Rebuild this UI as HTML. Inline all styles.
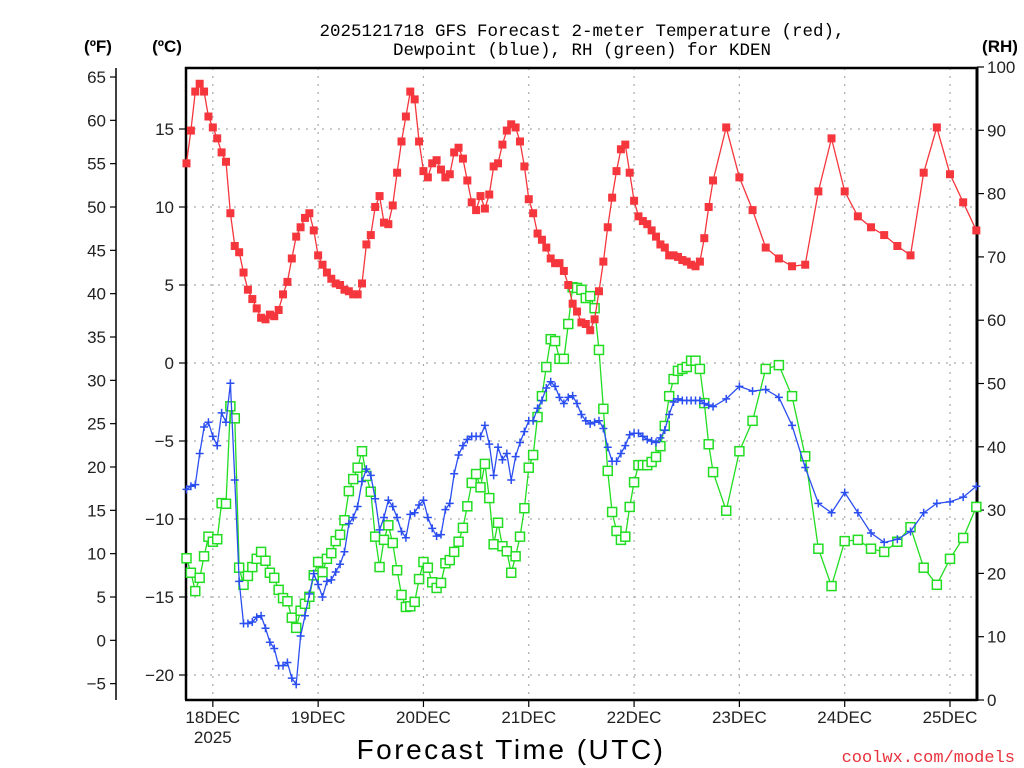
<!DOCTYPE html>
<html><head><meta charset="utf-8"><style>
html,body{margin:0;padding:0;background:#fff;}
svg{display:block;}
text{font-family:"Liberation Sans",sans-serif;}
</style></head><body>
<svg id="chart" width="1024" height="768" viewBox="0 0 1024 768" xmlns="http://www.w3.org/2000/svg">
<text x="582" y="36" text-anchor="middle" font-size="17.5" fill="#000" style="font-family:'Liberation Mono',monospace">2025121718 GFS Forecast 2-meter Temperature (red),</text>
<text x="582" y="55" text-anchor="middle" font-size="17.5" fill="#000" style="font-family:'Liberation Mono',monospace">Dewpoint (blue), RH (green) for KDEN</text>
<text x="98" y="52" text-anchor="middle" font-size="17" font-weight="bold">(ºF)</text>
<text x="167" y="52" text-anchor="middle" font-size="17" font-weight="bold">(ºC)</text>
<text x="1000" y="52" text-anchor="middle" font-size="17" font-weight="bold">(RH)</text>
<text x="511" y="759" text-anchor="middle" font-size="28" letter-spacing="2.5">Forecast Time (UTC)</text>
<text x="1015" y="762" text-anchor="end" font-size="17" fill="#e8323c" style="font-family:'Liberation Mono',monospace">coolwx.com/models</text>
<g id="grid"></g><g id="axes"></g><g id="series"></g>
</svg>
<script>
const tempC = [12.8,14.9,17.4,17.9,17.4,15.8,15.1,14.4,13.5,12.9,9.6,7.5,7.1,5.8,4.7,4.1,3.5,2.9,2.8,3.1,3.0,3.4,4.4,5.2,6.7,8.1,8.7,9.3,9.6,8.5,6.9,6.3,5.8,5.4,5.1,5.0,4.7,4.6,4.4,4.4,5.1,7.6,8.2,10.0,10.7,9.0,8.9,10.1,12.2,14.2,15.8,17.4,16.9,14.2,
12.3,11.9,12.8,13.0,12.4,11.9,12.1,13.5,13.8,13.1,11.7,10.3,9.8,10.7,9.9,10.8,12.6,12.8,14.0,14.9,15.3,15.1,14.2,12.6,10.5,9.6,8.3,7.9,7.4,6.7,6.4,6.4,5.9,5.0,3.8,3.3,2.6,2.5,2.1,2.8,4.6,6.5,8.7,10.6,12.3,13.7,14.0,12.2,10.4,9.4,9.1,8.9,8.5,8.1,7.6,7.4,6.9,6.9,6.8,6.6,6.5,6.3,6.2,6.5,8.0,10.0,11.7,
15.1,11.9,9.8,7.4,6.7,6.2,6.3,11.0,14.4,11.0,9.4,8.7,8.2,7.5,6.9,12.2,15.1,12.1,10.3,8.5];
const dewC = [-8.1,-7.9,-7.8,-5.8,-4.1,-3.8,-4.7,-5.3,-3.2,-3.8,-1.3,-7.5,-14.0,-16.7,-16.7,-16.6,-16.3,-16.2,-17.0,-17.9,-18.3,-19.4,-19.4,-19.2,-20.2,-20.6,-17.5,-16.2,-14.8,-13.5,-14.2,-15.0,-14.0,-13.9,-13.4,-12.9,-12.1,-10.3,-9.9,-9.2,-7.6,-6.8,-7.2,-8.7,-10.7,-9.9,-8.8,-9.2,-9.9,-10.8,-11.2,-9.7,-9.6,-9.1,
-8.8,-9.9,-10.6,-11.1,-11.0,-9.4,-9.0,-7.1,-5.9,-5.3,-4.9,-4.7,-4.7,-4.7,-4.0,-5.2,-7.2,-5.4,-6.2,-5.8,-7.5,-6.0,-5.1,-4.4,-3.7,-3.7,-2.9,-2.4,-1.6,-1.2,-1.5,-2.2,-2.6,-2.2,-2.1,-2.6,-3.3,-3.7,-3.9,-3.8,-3.7,-4.2,-5.4,-6.3,-6.3,-5.8,-5.3,-4.6,-4.5,-4.5,-4.7,-4.9,-5.0,-5.1,-4.8,-4.3,-3.3,-2.5,-2.3,-2.4,-2.4,-2.4,-2.4,-2.4,-2.6,-2.7,-2.8,
-2.3,-1.5,-1.8,-1.7,-2.2,-4.0,-6.7,-9.0,-9.6,-8.3,-9.6,-10.9,-11.5,-11.3,-10.8,-9.6,-9.0,-8.9,-8.6,-7.9];
const rhPct = [22.4,20.1,17.2,19.3,22.7,25.8,25.0,25.4,31.1,31.0,46.4,44.5,20.9,18.2,19.6,21.0,22.3,23.4,22.0,20.1,19.3,17.4,16.1,15.6,13.0,11.4,14.1,15.2,16.3,19.7,21.8,20.2,22.3,23.2,25.1,26.1,28.4,33.0,34.9,36.7,39.3,35.4,32.9,25.8,21.0,25.3,27.6,24.8,20.5,16.6,14.7,14.8,15.5,19.1,
21.8,20.9,18.6,17.7,18.5,21.6,22.1,23.4,25.0,27.2,30.6,34.3,35.7,33.6,37.3,31.9,24.6,28.0,24.3,23.5,20.1,22.7,25.8,30.3,36.7,38.7,44.7,48.0,52.6,57.0,56.7,53.9,53.9,59.4,65.2,65.1,64.8,63.5,63.8,61.9,55.3,46.0,36.2,29.7,26.7,25.3,25.8,30.5,34.4,37.1,37.1,37.1,37.6,38.4,40.1,43.3,48.0,50.7,52.0,52.3,52.6,53.6,53.6,52.3,46.9,40.4,36.0,
29.9,39.3,44.1,52.3,52.9,48.0,38.5,23.9,18.0,25.1,25.3,23.9,23.4,25.0,27.3,20.9,18.2,22.3,25.6,30.5];
const dayLabels = ["18DEC","19DEC","20DEC","21DEC","22DEC","23DEC","24DEC","25DEC"];
const fTicks = [65,60,55,50,45,40,35,30,25,20,15,10,5,0,-5];
const cTicks = [15,10,5,0,-5,-10,-15,-20];
const rhTicks = [100,90,80,70,60,50,40,30,20,10,0];

const NS="http://www.w3.org/2000/svg";
const X0=186.5, PX_PER_H=4.388, Y0C=363, PX_PER_C=15.6, RH0=700, PX_PER_RH=6.33;
function hourOf(i){return i<=120? i : 120+3*(i-120);}
function xH(h){return X0+h*PX_PER_H;}
function yC(c){return Y0C-c*PX_PER_C;}
function yF(f){return yC((f-32)*5/9);}
function yRH(r){return RH0-r*PX_PER_RH;}
function mk(tag,attrs,parent){const e=document.createElementNS(NS,tag);for(const k in attrs)e.setAttribute(k,attrs[k]);parent.appendChild(e);return e;}
const grid=document.getElementById('grid'),axes=document.getElementById('axes'),ser=document.getElementById('series');
const L=186,R=977,T=68,B=700;
cTicks.forEach(c=>{const y=yC(c);
 const g=mk('line',{x1:L,x2:R,y1:y,y2:y,stroke:'#aaa','stroke-width':1.2,'stroke-dasharray':'2 6'},grid);
 
 
 const t=mk('line',{x1:L-7,x2:L,y1:y,y2:y,stroke:'#000','stroke-width':1.2},axes);
 
 
 const tx=mk('text',{x:L-12,y:y+6,'text-anchor':'end','font-size':17,fill:'#222'},axes);
 tx.textContent=(c<0?'\u2212':'')+Math.abs(c);
 
 
});
dayLabels.forEach((d,i)=>{const x=xH(6+24*i);
 const g=mk('line',{x1:x,x2:x,y1:T,y2:B,stroke:'#aaa','stroke-width':1.2,'stroke-dasharray':'2 6'},grid);
 
 
 const t=mk('line',{x1:x,x2:x,y1:B,y2:B+7,stroke:'#000','stroke-width':1.2},axes);
 
 
 const tx=mk('text',{x:x,y:723,'text-anchor':'middle','font-size':17,fill:'#222'},axes);
 tx.textContent=d;
 
 
});
const yr=mk('text',{x:xH(6),y:743,'text-anchor':'middle','font-size':17,fill:'#222'},axes);
yr.textContent='2025';


const fa=mk('line',{x1:116,x2:116,y1:T,y2:B,stroke:'#000','stroke-width':1.5},axes);


fTicks.forEach(f=>{const y=yF(f);
 const t=mk('line',{x1:110,x2:116,y1:y,y2:y,stroke:'#000','stroke-width':1.2},axes);
 
 
 const tx=mk('text',{x:106,y:y+6,'text-anchor':'end','font-size':17,fill:'#222'},axes);
 tx.textContent=(f<0?'\u2212':'')+Math.abs(f);
 
 
});
rhTicks.forEach(r=>{const y=yRH(r);
 const t=mk('line',{x1:R,x2:R+7,y1:y,y2:y,stroke:'#000','stroke-width':1.2},axes);
 
 
 const tx=mk('text',{x:987,y:y+6,'text-anchor':'start','font-size':17,fill:'#222'},axes);
 tx.textContent=r;
 
 
});
const fr=mk('path',{d:`M${L},${B} L${L},${T} L${R},${T}`,fill:'none',stroke:'#000','stroke-width':2.5},axes);


const fb=mk('line',{x1:L-1,x2:R,y1:B,y2:B,stroke:'#000','stroke-width':2.5},axes);


const fra=mk('line',{x1:R,x2:R,y1:T-1,y2:B+1,stroke:'#000','stroke-width':3},axes);



function drawSeries(vals,yfn,color,name,marker){
 const g=mk('g',{},ser);
 
 
 const pts=vals.map((v,i)=>[xH(hourOf(i)),yfn(v)]);
 const pl=mk('polyline',{points:pts.map(p=>p[0].toFixed(1)+','+p[1].toFixed(1)).join(' '),fill:'none',stroke:color,'stroke-width':1.3},g);
 
 
 pts.forEach(p=>{let m;
  if(marker==='fill'){m=mk('rect',{x:p[0]-4,y:p[1]-4,width:8,height:8,fill:color},g);}
  else if(marker==='open'){m=mk('rect',{x:p[0]-4.5,y:p[1]-4.5,width:9,height:9,fill:'#fff',stroke:color,'stroke-width':1.5},g);}
  else {m=mk('path',{d:`M${p[0]-4},${p[1]} h8 M${p[0]},${p[1]-4} v8`,stroke:color,'stroke-width':1.5,fill:'none'},g);}
  
  
 });
}
drawSeries(rhPct,yRH,'#22dd22','rh','open');
drawSeries(dewC,yC,'#2b4ef0','dewpoint','plus');
drawSeries(tempC,yC,'#f5363c','temperature','fill');
</script>
</body></html>
